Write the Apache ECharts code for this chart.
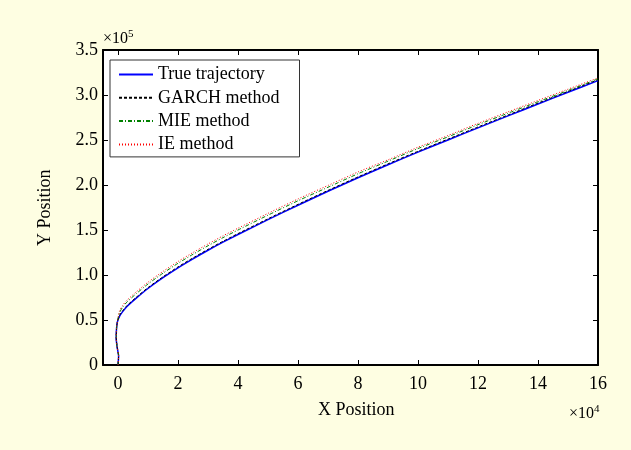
<!DOCTYPE html>
<html>
<head>
<meta charset="utf-8">
<script src="https://cdn.jsdelivr.net/npm/echarts@6/dist/echarts.min.js"></script>
<style>
  html, body { margin: 0; padding: 0; background: #fefee2; }
  #chart { width: 631px; height: 450px; }
</style>
</head>
<body>
<div id="chart"></div>
<script>
// X position in units of 1e4, Y position in units of 1e5
const xTrue   = [0, 0.02, -0.03, -0.06, -0.05, -0.02, 0.05, 0.15, 0.3, 0.6, 1.0, 1.5, 2.0, 2.5, 3.0, 3.5, 4.0, 5.0, 6.0, 7.0, 8.0, 9.0, 10, 11, 12, 13, 14, 15, 16];
const yTrue   = [0, 0.10, 0.20, 0.30, 0.40, 0.48, 0.54, 0.59, 0.65, 0.74, 0.85, 0.97, 1.08, 1.18, 1.275, 1.365, 1.45, 1.615, 1.775, 1.93, 2.08, 2.225, 2.365, 2.50, 2.635, 2.768, 2.90, 3.03, 3.16];

const xGarch  = [0, 0.02, -0.03, -0.06, -0.05, -0.02, 0.05, 0.15, 0.3, 0.6, 1.0, 1.5, 2.0, 2.5, 3.0, 3.5, 4.0, 5.0, 6.0, 7.0, 8.0, 9.0, 10, 11, 12, 13, 14, 15, 16];
const yGarch  = [0, 0.10, 0.20, 0.30, 0.40, 0.48, 0.55, 0.60, 0.66, 0.75, 0.86, 0.98, 1.09, 1.19, 1.285, 1.375, 1.46, 1.625, 1.785, 1.94, 2.09, 2.235, 2.375, 2.51, 2.645, 2.778, 2.91, 3.04, 3.17];

const xMie    = [0, 0.02, -0.03, -0.06, -0.05, -0.01, 0.05, 0.15, 0.3, 0.6, 1.0, 1.5, 2.0, 2.5, 3.0, 3.5, 4.0, 5.0, 6.0, 7.0, 8.0, 9.0, 10, 11, 12, 13, 14, 15, 16];
const yMie    = [0, 0.10, 0.20, 0.30, 0.40, 0.50, 0.58, 0.64, 0.70, 0.79, 0.90, 1.02, 1.13, 1.23, 1.325, 1.415, 1.50, 1.665, 1.825, 1.975, 2.125, 2.265, 2.405, 2.535, 2.67, 2.798, 2.925, 3.05, 3.18];

const xIe     = [0, 0.02, -0.03, -0.06, -0.05, -0.01, 0.05, 0.15, 0.3, 0.6, 1.0, 1.5, 2.0, 2.5, 3.0, 3.5, 4.0, 5.0, 6.0, 7.0, 8.0, 9.0, 10, 11, 12, 13, 14, 15, 16];
const yIe     = [0, 0.10, 0.20, 0.30, 0.40, 0.50, 0.60, 0.66, 0.72, 0.81, 0.92, 1.04, 1.15, 1.25, 1.345, 1.435, 1.52, 1.685, 1.845, 1.995, 2.145, 2.28, 2.42, 2.55, 2.685, 2.813, 2.94, 3.065, 3.19];

const seriesNames = ['True trajectory', 'GARCH method', 'MIE method', 'IE method'];
const xTicks = [0, 2, 4, 6, 8, 10, 12, 14, 16];

const pair = (xs, ys) => xs.map((x, i) => [x, ys[i]]);
const FONT = '"Liberation Serif", "Times New Roman", serif';

const chart = echarts.init(document.getElementById('chart'));

const xBase = {
  type: 'value', min: -0.5, max: 16,
  splitLine: { show: false },
  axisLine: { show: true, onZero: false, lineStyle: { color: '#000', width: 2 } },
  axisTick: { show: true, inside: true, length: 5, customValues: xTicks, lineStyle: { color: '#000', width: 1 } }
};
const yBase = {
  type: 'value', min: 0, max: 3.5, interval: 0.5,
  splitLine: { show: false },
  axisLine: { show: true, onZero: false, lineStyle: { color: '#000', width: 2 } },
  axisTick: { show: true, inside: true, length: 5, lineStyle: { color: '#000', width: 1 } }
};

const sup = { fontSize: 11, fontFamily: FONT, verticalAlign: 'top', padding: [0, 0, 8, 0] };

chart.setOption({
  backgroundColor: '#fefee2',
  animation: false,
  textStyle: { fontFamily: FONT },
  grid: { left: 103, top: 50, width: 495, height: 315, show: true, backgroundColor: '#ffffff', borderWidth: 0 },
  xAxis: [
    Object.assign({}, xBase, {
      position: 'bottom',
      axisLabel: { show: true, customValues: xTicks, margin: 10, color: '#000', fontSize: 18, fontFamily: FONT }
    }),
    Object.assign({}, xBase, { position: 'top', axisLabel: { show: false } })
  ],
  yAxis: [
    Object.assign({}, yBase, {
      position: 'left',
      axisLabel: {
        show: true, margin: 5, color: '#000', fontSize: 18, fontFamily: FONT,
        formatter: v => (v === 0 ? '0' : v.toFixed(1))
      }
    }),
    Object.assign({}, yBase, { position: 'right', axisLabel: { show: false } })
  ],
  legend: {
    orient: 'vertical',
    left: 110, top: 60,
    data: seriesNames,
    itemWidth: 34, itemHeight: 14, itemGap: 2.3,
    padding: [4, 20, 2, 8],
    borderColor: '#333', borderWidth: 1, backgroundColor: '#ffffff',
    itemStyle: { opacity: 0 },
    textStyle: { fontSize: 18, fontFamily: FONT, color: '#000', lineHeight: 21 }
  },
  graphic: [
    { type: 'text', left: 318, top: 401, style: { text: 'X Position', font: '18px ' + FONT, fill: '#000' } },
    { type: 'text', x: 36, y: 246, rotation: Math.PI / 2, style: { text: 'Y Position', font: '18px ' + FONT, fill: '#000' } },
    { type: 'text', left: 103, top: 29, style: { text: '×10{s|5}', font: '16px ' + FONT, fill: '#000', rich: { s: sup } } },
    { type: 'text', left: 569, top: 404, style: { text: '×10{s|4}', font: '16px ' + FONT, fill: '#000', rich: { s: sup } } }
  ],
  series: [
    { name: seriesNames[0], type: 'line', data: pair(xTrue, yTrue), symbol: 'none', smooth: 0.2,
      lineStyle: { color: '#0000ff', width: 1.5 }, itemStyle: { color: '#0000ff' } },
    { name: seriesNames[1], type: 'line', data: pair(xGarch, yGarch), symbol: 'none', smooth: 0.2,
      lineStyle: { color: '#000000', width: 1, type: [3, 2] }, itemStyle: { color: '#000000' } },
    { name: seriesNames[2], type: 'line', data: pair(xMie, yMie), symbol: 'none', smooth: 0.2,
      lineStyle: { color: '#008000', width: 1, type: [4, 2, 1, 2] }, itemStyle: { color: '#008000' } },
    { name: seriesNames[3], type: 'line', data: pair(xIe, yIe), symbol: 'none', smooth: 0.2,
      lineStyle: { color: '#ff0000', width: 1, type: [1, 2] }, itemStyle: { color: '#ff0000' } }
  ]
});
</script>
</body>
</html>
